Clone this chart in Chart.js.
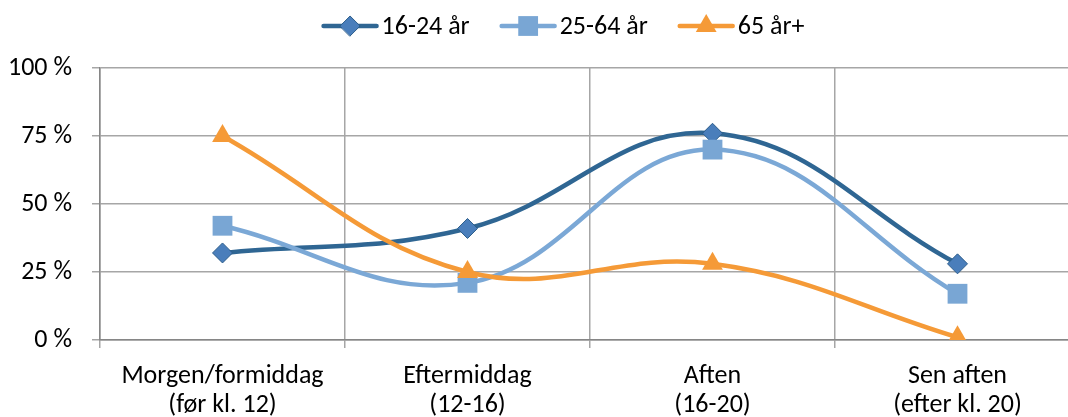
<!DOCTYPE html>
<html>
<head>
<meta charset="utf-8">
<script src="https://cdn.jsdelivr.net/npm/chart.js@4.4.0/dist/chart.umd.min.js"></script>
<style>
  html, body { margin: 0; padding: 0; overflow: hidden; background: #fff; }
</style>
</head>
<body>
<canvas id="myChart" width="1068" height="417"></canvas>
<script>
// data
const categories = [
  ['Morgen/formiddag', '(før kl. 12)'],
  ['Eftermiddag', '(12-16)'],
  ['Aften', '(16-20)'],
  ['Sen aften', '(efter kl. 20)']
]
const seriesNames = ['16-24 år', '25-64 år', '65 år+']
const young = [32, 41, 76, 28]
const middle = [42, 21, 70, 17]
const old = [75, 25, 28, 1]
const yTicks = [0, 25, 50, 75, 100]

const FONT = "Carlito, Lato, sans-serif"
const FONT_SIZE = 26
const gridGray = '#a6a6a6'
const PLOT_RIGHT = 1080 // the original plot runs a bit past the right edge

// stretch the x axis past the canvas edge after layout
const widePlot = {
  id: 'widePlot',
  afterLayout(chart) {
    const x = chart.scales.x
    x.right = PLOT_RIGHT
    x.width = x.right - x.left
    x.configure()
    chart.chartArea.right = PLOT_RIGHT
    chart.chartArea.width = PLOT_RIGHT - chart.chartArea.left
  }
}

// little legend drawn like excel: line with marker in the middle
const legendPlugin = {
  id: 'lineLegend',
  afterDraw(chart) {
    const ctx = chart.ctx
    ctx.save()
    ctx.font = FONT_SIZE + 'px ' + FONT
    ctx.textBaseline = 'middle'
    const lineLen = 57, gap = 3, spacing = 30
    const items = chart.data.datasets.map(ds => ({ ds, w: ctx.measureText(ds.label).width }))
    let total = 0
    items.forEach((it, i) => { total += lineLen + gap + it.w + (i ? spacing : 0) })
    let x = 563 - total / 2
    const y = 26
    items.forEach(it => {
      const ds = it.ds
      ctx.strokeStyle = ds.borderColor
      ctx.lineWidth = ds.borderWidth
      ctx.lineCap = 'round'
      ctx.beginPath()
      ctx.moveTo(x + 2, y)
      ctx.lineTo(x + lineLen - 2, y)
      ctx.stroke()
      ctx.fillStyle = ds.pointBackgroundColor
      ctx.strokeStyle = ds.pointBorderColor
      ctx.lineWidth = ds.pointBorderWidth
      Chart.helpers.drawPoint(ctx, {
        pointStyle: ds.pointStyle,
        radius: ds.pointRadius,
        borderWidth: ds.pointBorderWidth,
        rotation: 0
      }, x + lineLen / 2, y)
      ctx.fillStyle = '#000'
      ctx.fillText(ds.label, x + lineLen + gap, y + 1)
      x += lineLen + gap + it.w + spacing
    })
    ctx.restore()
  }
}

let ctx = document.getElementById('myChart').getContext('2d')

let chartData = {
  labels: categories,
  datasets: [
    {
      label: seriesNames[0],
      data: young,
      borderColor: '#2f6693',
      borderWidth: 4.5,
      pointStyle: 'rectRot',
      pointRadius: 10,
      pointBackgroundColor: '#4a7ebb',
      pointBorderColor: '#2c5d8a',
      pointBorderWidth: 1,
      order: 3
    },
    {
      label: seriesNames[1],
      data: middle,
      borderColor: '#7ba8d6',
      borderWidth: 4.5,
      pointStyle: 'rect',
      pointRadius: 14,
      pointBackgroundColor: '#79a6d4',
      pointBorderColor: '#79a6d4',
      pointBorderWidth: 0,
      order: 2
    },
    {
      label: seriesNames[2],
      data: old,
      borderColor: '#f59a37',
      borderWidth: 4.5,
      pointStyle: 'triangle',
      pointRadius: 12,
      pointBackgroundColor: '#f59a37',
      pointBorderColor: '#f59a37',
      pointBorderWidth: 0,
      order: 1
    }
  ]
}

let myChart = new Chart(ctx, {
  type: 'line',
  data: chartData,
  plugins: [widePlot, legendPlugin],
  options: {
    responsive: false,
    animation: false,
    devicePixelRatio: 1,
    layout: { padding: { top: 68, left: 0, right: 0, bottom: 0 } },
    elements: { line: { tension: 0.4 } },
    plugins: { legend: { display: false }, tooltip: { enabled: false } },
    scales: {
      x: {
        offset: true,
        // only the lines between categories; the closing line sits off the picture
        grid: { offset: true, color: c => c.type === 'tick' ? gridGray : 'rgba(0,0,0,0)', lineWidth: 1.5, tickLength: 8 },
        border: { color: '#868686', width: 1.5 },
        ticks: { color: '#000', font: { family: FONT, size: FONT_SIZE, lineHeight: 1.12 }, padding: 14, maxRotation: 0 },
        afterFit: s => { s.height = 77 }
      },
      y: {
        min: 0,
        max: 100,
        afterBuildTicks: s => { s.ticks = yTicks.map(v => ({ value: v })) },
        grid: { color: gridGray, lineWidth: 1.5, tickLength: 8 },
        border: { color: '#868686', width: 1.5 },
        ticks: { color: '#000', font: { family: FONT, size: FONT_SIZE }, padding: 20, callback: v => v + ' %' },
        afterFit: s => { s.width = 100 }
      }
    }
  }
})
</script>
</body>
</html>
